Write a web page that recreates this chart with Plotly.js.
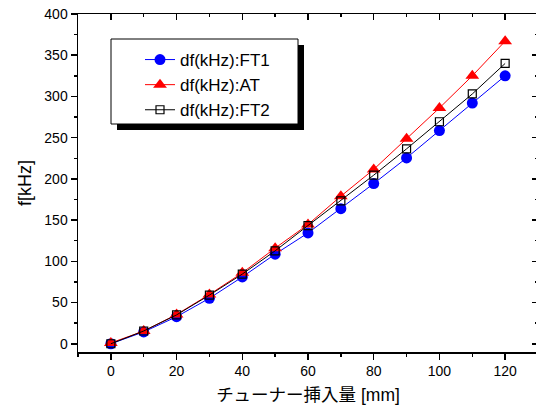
<!DOCTYPE html>
<html>
<head>
<meta charset="utf-8">
<script src="https://cdn.plot.ly/plotly-3.0.1.min.js"></script>
<style>
html,body{margin:0;padding:0;overflow:hidden;background:#fff;}
#chart{width:540px;height:405px;}
</style>
</head>
<body>
<div id="chart"></div>
<script>
// Data
const insertion = [0, 10, 20, 30, 40, 50, 60, 70, 80, 90, 100, 110, 120];
const ft1 = [0, 14.4, 32.8, 55.2, 81, 108.7, 134.4, 163.8, 194.3, 225.4, 258.6, 292, 325];
const at  = [1, 15.4, 35.5, 59.8, 86, 116, 144.7, 179, 211.5, 248.6, 286, 325, 367];
const ft2 = [0, 15.5, 35, 59, 84.5, 112.7, 143.4, 173.4, 204.5, 236.4, 269.3, 303, 340];
const seriesNames = ['df(kHz):FT1', 'df(kHz):AT', 'df(kHz):FT2'];
const xTitle = 'チューナー挿入量 [mm]';
const yTitle = 'f[kHz]';

const FONT = 'Liberation Sans, Arial, "Noto Sans CJK JP", sans-serif';

const traces = [
  {x: insertion, y: ft1, name: seriesNames[0], type: 'scatter', mode: 'lines+markers',
   line: {color: '#0000ff', width: 1},
   marker: {symbol: 'circle', size: 11, color: '#0000ff'}},
  {x: insertion, y: at, name: seriesNames[1], type: 'scatter', mode: 'lines+markers',
   line: {color: '#ff0000', width: 1},
   marker: {symbol: 'triangle-up', size: 12, color: '#ff0000'}},
  {x: insertion, y: ft2, name: seriesNames[2], type: 'scatter', mode: 'lines+markers',
   line: {color: '#000000', width: 1},
   marker: {symbol: 'square-open', size: 8, color: '#000000', line: {width: 1.2, color: '#000000'}}},
  {x: [0], y: [0], xaxis: 'x2', yaxis: 'y2', type: 'scatter', mode: 'markers',
   marker: {opacity: 0}, showlegend: false, hoverinfo: 'skip'}
];

const W = 460, H = 338;
function px(v){ return (v - 78) / W; }
function py(v){ return (352 - v) / H; }

const axisCommon = {
  showline: true, linecolor: '#000', linewidth: 1.5,
  showgrid: false, zeroline: false,
  tickcolor: '#000', tickwidth: 1.5, ticklen: 6,
  tickfont: {family: FONT, size: 14, color: '#000'}
};

const layout = {
  width: 540, height: 405,
  margin: {l: 78, r: 2, t: 14, b: 53},
  paper_bgcolor: '#fff', plot_bgcolor: '#fff',
  font: {family: FONT, color: '#000'},
  showlegend: true,
  xaxis: Object.assign({}, axisCommon, {
    range: [-10, 130], tick0: 0, dtick: 20, ticks: 'outside',
    minor: {dtick: 10, ticks: 'outside', ticklen: 3, tickwidth: 1.5, tickcolor: '#000'},
    title: {text: xTitle, font: {family: FONT, size: 17.5, color: '#000'}, standoff: 12}
  }),
  yaxis: Object.assign({}, axisCommon, {
    range: [-10, 400], tick0: 0, dtick: 50, ticks: 'outside',
    minor: {dtick: 25, ticks: 'outside', ticklen: 3, tickwidth: 1.5, tickcolor: '#000'},
    title: {text: yTitle, font: {family: FONT, size: 18, color: '#000'}, standoff: 8}
  }),
  xaxis2: Object.assign({}, axisCommon, {
    overlaying: 'x', side: 'top', anchor: 'y2',
    range: [-10, 130], tick0: 0, dtick: 20, ticks: 'inside', showticklabels: false,
    minor: {dtick: 10, ticks: 'inside', ticklen: 3, tickwidth: 1.5, tickcolor: '#000'}
  }),
  yaxis2: Object.assign({}, axisCommon, {
    overlaying: 'y', side: 'right', anchor: 'x2',
    range: [-10, 400], tick0: 0, dtick: 50, ticks: 'inside', showticklabels: false,
    minor: {dtick: 25, ticks: 'inside', ticklen: 3, tickwidth: 1.5, tickcolor: '#000'}
  }),
  legend: {
    x: px(140), xanchor: 'left', y: py(42), yanchor: 'top',
    bgcolor: 'rgba(0,0,0,0)', borderwidth: 0,
    font: {family: FONT, size: 17, color: '#000'},
    tracegroupgap: 0
  },
  shapes: [
    {type: 'rect', xref: 'paper', yref: 'paper', layer: 'above',
     x0: px(117), x1: px(304), y0: py(130), y1: py(45),
     fillcolor: '#000', line: {width: 0}},
    {type: 'rect', xref: 'paper', yref: 'paper', layer: 'above',
     x0: px(111), x1: px(298), y0: py(124), y1: py(39),
     fillcolor: '#fff', line: {width: 1, color: '#000'}}
  ]
};

Plotly.newPlot('chart', traces, layout, {displayModeBar: false, staticPlot: true});
</script>
</body>
</html>
